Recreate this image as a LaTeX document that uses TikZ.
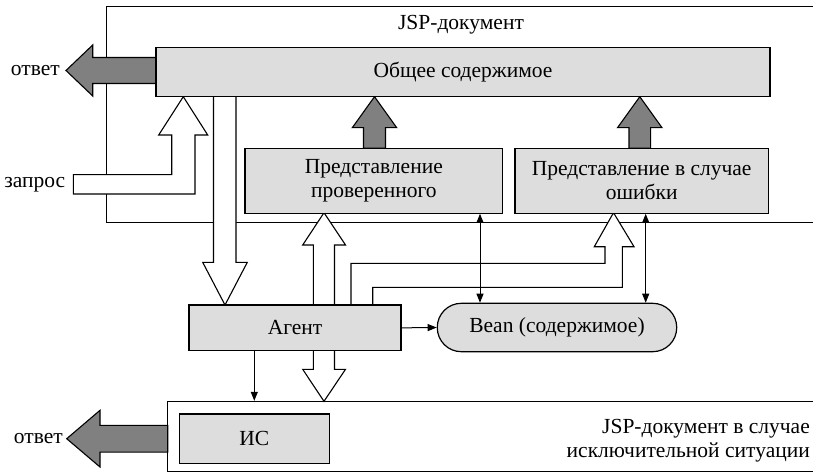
\documentclass[tikz,border=0pt]{standalone}
\usepackage{fontspec}
\setmainfont{Liberation Serif}
\newfontfamily\diagfont{Liberation Serif}
\usetikzlibrary{arrows.meta}
\definecolor{boxgray}{HTML}{DDDDDD}
\definecolor{arrgray}{HTML}{808080}
\tikzset{
  box/.style={draw, line width=1.2pt, fill=boxgray, inner sep=0pt, align=center},
  frame/.style={draw, line width=1pt, inner sep=0pt},
  blockw/.style={draw, line width=1.1pt, fill=white, line join=miter},
  blockd/.style={draw, line width=1.1pt, fill=arrgray, line join=miter},
  thinarrow/.style={line width=1pt, -{Triangle[length=9pt,width=7pt]}},
  thinboth/.style={line width=1pt, {Triangle[length=9pt,width=7pt]}-{Triangle[length=9pt,width=7pt]}},
  lbl/.style={inner sep=0pt, align=center}
}
\begin{document}
\begin{tikzpicture}[x=1pt,y=-1pt,font=\diagfont\fontsize{21.5}{24}\selectfont]
\path[use as bounding box] (0,0) rectangle (813,473);
\clip (0,0) rectangle (813,473);
% containers
\node[frame, minimum width=724pt, minimum height=215.7pt] (jsp) at (468,114.85) {};
\node[lbl] (jsplbl) at (461,25) {JSP-документ};
\node[frame, minimum width=662.3pt, minimum height=70.4pt] (exc) at (498.85,436.5) {};
\node[lbl, align=right, anchor=east] (exclbl) at (810,441) {JSP-документ в случае\\исключительной ситуации};
% block arrows
\draw[blockd] (156,57.5) -- (92.7,57.5) -- (92.7,45) -- (66,70.5) -- (92.7,96) -- (92.7,83.5) -- (156,83.5) -- cycle;
\draw[blockd] (167.7,425.3) -- (100,425.3) -- (100,410.3) -- (66.7,438.7) -- (100,467) -- (100,452.1) -- (167.7,452.1) -- cycle;
\draw[blockd] (363.5,148.3) -- (363.5,127.7) -- (352.3,127.7) -- (374.5,96.7) -- (396.7,127.7) -- (385.5,127.7) -- (385.5,148.3) -- cycle;
\draw[blockd] (629,148.3) -- (629,127.7) -- (617.5,127.7) -- (639.8,96.7) -- (662,127.7) -- (650.6,127.7) -- (650.6,148.3) -- cycle;
\draw[blockw] (73.3,174.7) -- (171.7,174.7) -- (171.7,135) -- (158.7,135) -- (183.3,96.7) -- (207.7,135) -- (195,135) -- (195,194) -- (73.3,194) -- cycle;
\draw[blockw] (213.5,96.7) -- (213.5,262.3) -- (202.7,262.3) -- (225,305) -- (247.3,262.3) -- (236,262.3) -- (236,96.7);
\draw[blockw] (313.3,305) -- (313.3,245) -- (302.7,245) -- (324,212.7) -- (345.5,245) -- (334.5,245) -- (334.5,305);
\draw[blockw] (313.3,350.7) -- (313.3,369.3) -- (302.7,369.3) -- (324,401.3) -- (345.5,369.3) -- (334.5,369.3) -- (334.5,350.7);
\draw[blockw] (351,305) -- (351,263.3) -- (605,263.3) -- (605,246.7) -- (594.3,246.7) -- (613.5,212.7) -- (634,246.7) -- (622.3,246.7) -- (622.3,287.3) -- (372.7,287.3) -- (372.7,305);
% inner boxes
\node[box, minimum width=614pt, minimum height=49.4pt] (obs) at (463,72) {Общее содержимое};
\node[box, minimum width=257.7pt, minimum height=64.4pt] (prov) at (373.85,181) {Представление\\проверенного};
\node[box, minimum width=253.3pt, minimum height=64.4pt] (err) at (641.65,181) {Представление в случае\\ошибки};
\node[box, minimum width=212pt, minimum height=45.7pt] (agent) at (295,327.85) {Агент};
\node[box, rounded corners=24pt, minimum width=239.4pt, minimum height=48.4pt] (bean) at (557,327.5) {Bean (содержимое)};
\node[box, minimum width=150pt, minimum height=49.3pt] (is) at (254.3,438.65) {ИС};
% labels
\node[lbl, anchor=east] (otv1) at (60,70.5) {ответ};
\node[lbl, anchor=east] (otv2) at (63,438.7) {ответ};
\node[lbl, anchor=east] (zap) at (65.5,185) {запрос};
% thin connectors
\coordinate (c1) at (480,0);
\coordinate (c2) at (645.7,0);
\coordinate (c3) at (254.3,0);
\draw[thinboth] (prov.south -| c1) -- (bean.north -| c1);
\draw[thinboth] (err.south -| c2) -- (bean.north -| c2);
\draw[thinarrow] (agent.south -| c3) -- (exc.north -| c3);
\draw[thinarrow] (agent.east) -- (bean.west);
\end{tikzpicture}
\end{document}
